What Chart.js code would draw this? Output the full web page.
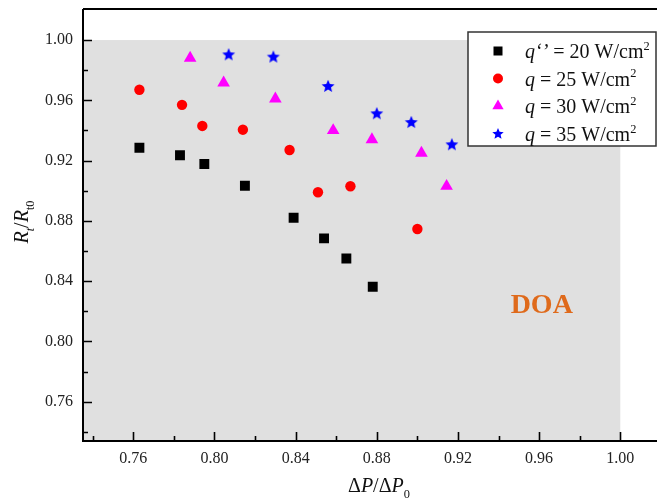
<!DOCTYPE html>
<html lang="en">
<head>
    <meta charset="UTF-8">
    <title>Rt/Rt0 vs ΔP/ΔP0</title>
    <script src="https://cdn.jsdelivr.net/npm/chart.js"></script>
    <style>
        html, body { margin: 0; padding: 0; background: #fff; overflow: hidden; }
        .chart-container { width: 657px; height: 501px; position: relative; }
        canvas { display: block; }
    </style>
</head>
<body>
    <div class="chart-container">
        <canvas id="doaChart"></canvas>
    </div>

    <script>
        // measured points, one pair of arrays per heat flux
        const dp20 = [0.763, 0.783, 0.795, 0.815, 0.839, 0.854, 0.865, 0.878];
        const rt20 = [0.9285, 0.9235, 0.9177, 0.9033, 0.8821, 0.8684, 0.855, 0.8363];

        const dp25 = [0.763, 0.784, 0.794, 0.814, 0.837, 0.851, 0.867, 0.900];
        const rt25 = [0.967, 0.957, 0.943, 0.9405, 0.927, 0.899, 0.903, 0.8746];

        const dp30 = [0.788, 0.8045, 0.830, 0.8585, 0.8776, 0.902, 0.9144];
        const rt30 = [0.988, 0.9716, 0.961, 0.940, 0.934, 0.925, 0.903];

        const dp35 = [0.807, 0.829, 0.856, 0.880, 0.897, 0.917];
        const rt35 = [0.9905, 0.989, 0.9695, 0.9514, 0.9456, 0.9308];

        const fluxLabels = ['20', '25', '30', '35'];
        const tickStep = 0.04;
        const doaLimit = 1.00;

        const serif = "'Liberation Serif', 'Times New Roman', serif";

        const toPoints = (xs, ys) => xs.map((x, i) => ({ x: x, y: ys[i] }));

        // filled five-point star for the 35 W/cm2 series
        function makeStar(outer, color) {
            const c = document.createElement('canvas');
            const s = Math.ceil(outer * 2 + 2);
            c.width = s; c.height = s;
            const g = c.getContext('2d');
            drawStar(g, s / 2, s / 2 + 0.5, outer, color);
            return c;
        }

        function drawStar(g, cx, cy, outer, color) {
            const inner = outer * 0.45;
            g.beginPath();
            for (let i = 0; i < 10; i++) {
                const r = i % 2 === 0 ? outer : inner;
                const a = -Math.PI / 2 + i * Math.PI / 5;
                const px = cx + r * Math.cos(a);
                const py = cy + r * Math.sin(a);
                if (i === 0) g.moveTo(px, py); else g.lineTo(px, py);
            }
            g.closePath();
            g.fillStyle = color;
            g.fill();
        }

        const seriesStyle = [
            { color: '#000000', style: 'rect', radius: 7 },
            { color: '#ff0000', style: 'circle', radius: 5.2 },
            { color: '#ff00ff', style: 'triangle', radius: 7.3 },
            { color: '#0000ff', style: makeStar(6.8, '#0000ff'), radius: 7 }
        ];

        // draw text made of pieces (italic / superscript / subscript)
        function drawRich(ctx, parts, x, y, size) {
            let cx = x;
            ctx.textBaseline = 'alphabetic';
            ctx.textAlign = 'left';
            parts.forEach(p => {
                let fs = size, dy = 0;
                if (p.sup) { fs = size * 0.62; dy = -size * 0.42; }
                if (p.sub) { fs = size * 0.62; dy = size * 0.28; }
                ctx.font = (p.italic ? 'italic ' : '') + fs + 'px ' + serif;
                ctx.fillText(p.t, cx, y + dy);
                cx += ctx.measureText(p.t).width;
            });
            return cx;
        }

        function richWidth(ctx, parts, size) {
            let w = 0;
            parts.forEach(p => {
                const fs = (p.sup || p.sub) ? size * 0.62 : size;
                ctx.font = (p.italic ? 'italic ' : '') + fs + 'px ' + serif;
                w += ctx.measureText(p.t).width;
            });
            return w;
        }

        function drawMarker(ctx, i, x, y, r) {
            const st = seriesStyle[i];
            ctx.fillStyle = st.color;
            ctx.beginPath();
            if (i === 0) {
                ctx.fillRect(x - r, y - r, 2 * r, 2 * r);
            } else if (i === 1) {
                ctx.arc(x, y, r, 0, Math.PI * 2);
                ctx.fill();
            } else if (i === 2) {
                ctx.moveTo(x, y - r);
                ctx.lineTo(x + r * 0.866, y + r * 0.5);
                ctx.lineTo(x - r * 0.866, y + r * 0.5);
                ctx.closePath();
                ctx.fill();
            } else {
                drawStar(ctx, x, y, r, st.color);
            }
        }

        const framePlugin = {
            id: 'frame',
            beforeDatasetsDraw(chart) {
                const { ctx, chartArea: a, scales: { x, y } } = chart;
                ctx.save();
                // DOA region
                ctx.fillStyle = '#e0e0e0';
                const gx = x.getPixelForValue(doaLimit);
                const gy = y.getPixelForValue(doaLimit);
                ctx.fillRect(a.left, gy, gx - a.left, a.bottom - gy);

                ctx.fillStyle = '#df6a1b';
                ctx.font = 'bold 28px ' + serif;
                ctx.textAlign = 'center';
                ctx.textBaseline = 'alphabetic';
                ctx.fillText('DOA', x.getPixelForValue(0.9613), 313);
                ctx.restore();
            },
            afterDatasetsDraw(chart) {
                const { ctx, chartArea: a, scales: { x, y } } = chart;
                // axes run on to the right edge of the canvas
                const right = chart.width;
                ctx.save();
                ctx.strokeStyle = '#000';
                ctx.lineWidth = 2;
                ctx.beginPath();
                ctx.moveTo(a.left, a.top);
                ctx.lineTo(right, a.top);
                ctx.moveTo(a.left, a.top);
                ctx.lineTo(a.left, a.bottom);
                ctx.lineTo(right, a.bottom);
                ctx.stroke();

                // inward ticks, minor ones halfway between labels
                ctx.lineWidth = 1.6;
                ctx.beginPath();
                for (let v = 0.74; v <= 1.02; v += tickStep / 2) {
                    const major = Math.round(v / (tickStep / 2)) % 2 === 0;
                    const len = major ? 9 : 5;
                    const px = Math.round(x.getPixelForValue(v)) + 0.5;
                    if (px > a.left + 2 && px < right) {
                        ctx.moveTo(px, a.bottom);
                        ctx.lineTo(px, a.bottom - len);
                    }
                    const py = Math.round(y.getPixelForValue(v)) + 0.5;
                    if (py < a.bottom - 2 && py > a.top) {
                        ctx.moveTo(a.left, py);
                        ctx.lineTo(a.left + len, py);
                    }
                }
                ctx.stroke();

                // legend box
                const lx = 468, ly = 32, lw = 188, lh = 114;
                ctx.fillStyle = '#fff';
                ctx.fillRect(lx, ly, lw, lh);
                ctx.strokeStyle = '#333';
                ctx.lineWidth = 1.5;
                ctx.strokeRect(lx, ly, lw, lh);

                const rowY = [51, 78.5, 106, 134];
                const markR = [4.5, 5, 6.5, 6];
                fluxLabels.forEach((q, i) => {
                    drawMarker(ctx, i, 498, rowY[i], markR[i]);
                    ctx.fillStyle = '#111';
                    const parts = [{ t: 'q', italic: true }];
                    if (i === 0) parts.push({ t: '\u2018\u2019', italic: true });
                    parts.push({ t: ' = ' + q + ' W/cm' });
                    parts.push({ t: '2', sup: true });
                    drawRich(ctx, parts, 525, rowY[i] + 7, 20);
                });

                // axis titles
                ctx.fillStyle = '#111';
                const xt = [{ t: '\u0394' }, { t: 'P', italic: true }, { t: '/\u0394' }, { t: 'P', italic: true }, { t: '0', sub: true }];
                const xw = richWidth(ctx, xt, 20);
                drawRich(ctx, xt, 379 - xw / 2, 492, 20);

                const yt = [{ t: 'R', italic: true }, { t: 't', italic: true, sub: true }, { t: '/' }, { t: 'R', italic: true }, { t: 't0', sub: true }];
                const yw = richWidth(ctx, yt, 20);
                ctx.translate(28, 222);
                ctx.rotate(-Math.PI / 2);
                drawRich(ctx, yt, -yw / 2, 0, 20);
                ctx.restore();
            }
        };

        const datasets = [
            toPoints(dp20, rt20),
            toPoints(dp25, rt25),
            toPoints(dp30, rt30),
            toPoints(dp35, rt35)
        ].map((pts, i) => ({
            label: 'q = ' + fluxLabels[i] + ' W/cm2',
            data: pts,
            pointStyle: seriesStyle[i].style,
            pointRadius: seriesStyle[i].radius,
            pointHoverRadius: seriesStyle[i].radius,
            backgroundColor: seriesStyle[i].color,
            borderColor: seriesStyle[i].color,
            borderWidth: 0,
            showLine: false
        }));

        const tickFont = { family: serif, size: 16 };

        // fixed axis box: no automatic label padding around the plot
        const noPad = s => { s.paddingTop = 0; s.paddingBottom = 0; s.paddingLeft = 0; s.paddingRight = 0; };

        new Chart(document.getElementById('doaChart'), {
            type: 'scatter',
            data: { datasets: datasets },
            options: {
                responsive: true,
                maintainAspectRatio: false,
                animation: false,
                layout: { padding: { top: 9, right: 0, bottom: 0, left: 0 } },
                plugins: {
                    legend: { display: false },
                    tooltip: { enabled: false }
                },
                scales: {
                    x: {
                        type: 'linear',
                        min: 0.7352,
                        max: 1.0145,
                        grid: { display: false, drawTicks: false },
                        border: { display: false },
                        ticks: {
                            stepSize: tickStep,
                            includeBounds: false,
                            padding: 8,
                            color: '#222',
                            font: tickFont,
                            maxRotation: 0,
                            autoSkip: false,
                            callback: v => v.toFixed(2)
                        },
                        afterFit: s => { s.height = 60; noPad(s); }
                    },
                    y: {
                        type: 'linear',
                        min: 0.7339,
                        max: 1.0206,
                        grid: { display: false, drawTicks: false },
                        border: { display: false },
                        ticks: {
                            stepSize: tickStep,
                            includeBounds: false,
                            padding: 10,
                            color: '#222',
                            font: tickFont,
                            autoSkip: false,
                            callback: v => v.toFixed(2)
                        },
                        afterFit: s => { s.width = 83; noPad(s); }
                    }
                }
            },
            plugins: [framePlugin]
        });
    </script>
</body>
</html>
